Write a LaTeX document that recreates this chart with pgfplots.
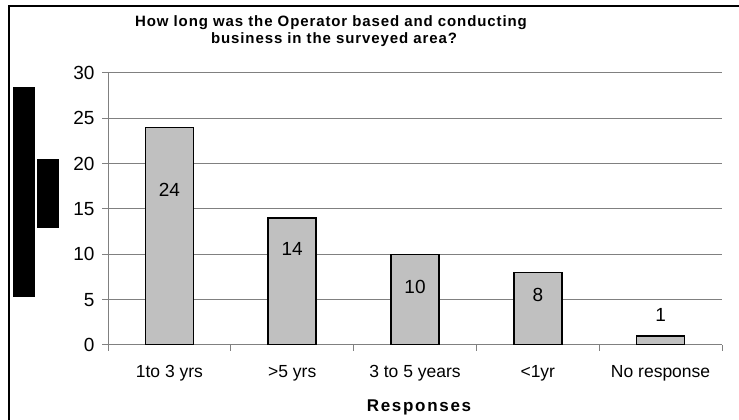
\documentclass[border=0pt]{standalone}
\usepackage{pgfplots}
\pgfplotsset{compat=1.18}
\usepackage{fontspec}
\setmainfont{Liberation Sans}
\newfontfamily\titlefont[LetterSpace=6]{Liberation Sans}
\newfontfamily\labelfont[LetterSpace=10]{Liberation Sans}
\definecolor{barfill}{HTML}{C0C0C0}
\definecolor{gridc}{HTML}{808080}
\begin{document}
\begin{tikzpicture}
\path[use as bounding box] (0,0) rectangle (739pt,420pt);
\clip (0,0) rectangle (739pt,420pt);
% redaction blocks from the original
\fill[black] (13pt,123pt) rectangle (35pt,333pt);
\fill[black] (37pt,192pt) rectangle (59pt,261pt);
% frame
\draw[line width=2pt] (8.5pt,-5pt) -- (8.5pt,413.5pt) -- (760pt,413.5pt);
% title
\node[anchor=base, inner sep=0pt, font=\titlefont\bfseries\fontsize{15}{15}\selectfont] at (331pt,393.5pt) {How long was the Operator based and conducting};
\node[anchor=base, inner sep=0pt, font=\titlefont\bfseries\fontsize{15}{15}\selectfont] at (334pt,376pt) {business in the surveyed area?};
\begin{axis}[
  at={(108pt,75pt)}, anchor=south west,
  scale only axis, width=614pt, height=272pt,
  xmin=-0.5, xmax=4.5, ymin=0, ymax=30,
  axis x line*=bottom, axis y line*=left,
  axis line style={draw=gridc, line width=1pt},
  ytick={0,5,10,15,20,25,30},
  ymajorgrids, grid style={draw=gridc, line width=1pt},
  tick align=outside, major tick length=6pt,
  tick style={draw=gridc, line width=1pt},
  xtick={-0.5,0.5,1.5,2.5,3.5,4.5}, xticklabels={},
  extra x ticks={0,1,2,3,4},
  extra x tick labels={1to 3 yrs, >5 yrs, 3 to 5 years, <1yr, No response},
  extra x tick style={major tick length=0pt, grid=none},
  /pgf/number format/assume math mode=true,
  yticklabel style={font=\fontsize{19}{19}\selectfont, xshift=-4pt},
  xticklabel style={font=\fontsize{17.5}{17.5}\selectfont, yshift=-17pt},
]
\addplot[ybar, bar width=48pt, fill=barfill, draw=black, line width=1.6pt]
  coordinates {(0,24) (1,14) (2,10) (3,8) (4,1)};
\addplot[draw=none, mark=none, nodes near coords, point meta=explicit symbolic,
  every node near coord/.append style={anchor=center, font=\fontsize{19}{19}\selectfont, text=black}]
  coordinates {(0,17.1)[24] (1,10.6)[14] (2,6.4)[10] (3,5.5)[8] (4,3.3)[1]};
\end{axis}
\node[anchor=base, inner sep=0pt, font=\labelfont\bfseries\fontsize{17}{17}\selectfont] at (419pt,8pt) {Responses};
\end{tikzpicture}
\end{document}
